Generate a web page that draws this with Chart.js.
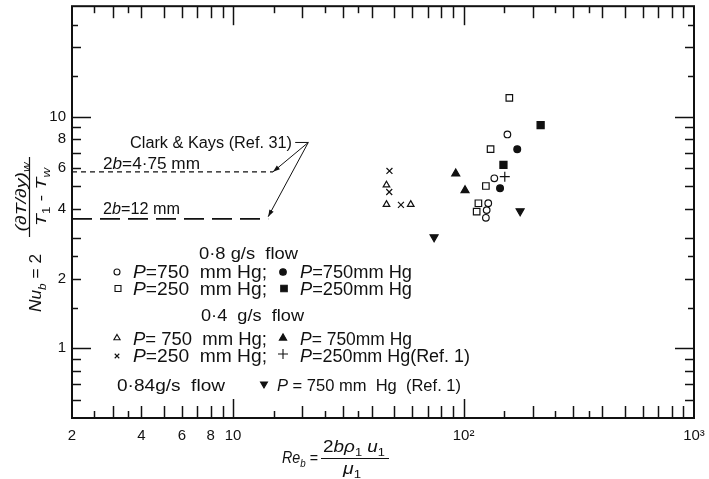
<!DOCTYPE html>
<html>
<head>
<meta charset="utf-8">
<script src="https://cdn.jsdelivr.net/npm/chart.js@4/dist/chart.umd.min.js"></script>
<style>
  html, body { margin: 0; padding: 0; background: #fff; }
  canvas { display: block; }
</style>
</head>
<body>
<canvas id="c" width="709" height="479"></canvas>
<script>
// Re_b (x) and Nu_b (y) for each measurement group
const openCircleRe = [155, 136, 128, 126, 125];
const openCircleNu = [8.38, 5.42, 4.23, 3.95, 3.66];
const openSquareRe = [158, 131, 125, 116, 114];
const openSquareNu = [12.05, 7.24, 5.02, 4.23, 3.89];
const filledCircleRe = [171, 144];
const filledCircleNu = [7.24, 4.91];
const filledSquareRe = [216, 149];
const filledSquareNu = [9.2, 6.19];
const openTriangleRe = [46.3, 46.3, 59];
const openTriangleNu = [5.07, 4.18, 4.18];
const filledTriangleRe = [92.5, 101.5];
const filledTriangleNu = [5.68, 4.81];
const crossRe = [47.7, 47.6, 53.5];
const crossNu = [5.83, 4.73, 4.16];
const plusRe = [151];
const plusNu = [5.51];
const downTriangleRe = [176, 74.5];
const downTriangleNu = [3.91, 3.02];

// Clark & Kays correlation levels
const clark475Re = [2, 14.9];
const clark475Nu = [5.78, 5.78];
const clark12Re = [2, 14.2];
const clark12Nu = [3.62, 3.62];
// leader lines: start of the caption stroke, apex, and the two arrow tips
const leaderRe = [18.6, 21.2, 14.9, 14.2];
const leaderNu = [7.74, 7.74, 5.78, 3.7];

// axis tick marks and labels
const xTickValues = [2.5, 3, 3.5, 4, 5, 6, 7, 8, 9, 10, 15, 20, 25, 30, 35, 40, 50, 60, 70, 80, 90, 100,
                     150, 200, 250, 300, 350, 400, 500, 600, 700, 800, 900];
const yTickValues = [0.6, 0.7, 0.8, 0.9, 1, 1.5, 2, 2.5, 3, 4, 5, 6, 7, 8, 9, 10, 15, 20, 25];
const xLabelValues = [2, 4, 6, 8, 10, 100, 1000];
const xLabelTexts = ['2', '4', '6', '8', '10', '10\u00B2', '10\u00B3'];
const yLabelValues = [1, 2, 4, 6, 8, 10];
const yLabelTexts = ['1', '2', '4', '6', '8', '10'];

const FONT = '"Liberation Sans", Arial, sans-serif';
const INK = '#111';

const pts = (xs, ys) => xs.map((x, i) => ({ x, y: ys[i] }));

function markerSet(label, xs, ys, style, filled, radius, rotation) {
  return {
    label, data: pts(xs, ys), pointStyle: style, pointRadius: radius, pointRotation: rotation || 0,
    pointBackgroundColor: filled ? INK : '#fff', pointBorderColor: INK, pointBorderWidth: 1.2,
    pointHoverRadius: radius, showLine: false
  };
}

function tickLen(v, decade, whole, half) {
  const lg = Math.log10(v);
  if (Math.abs(lg - Math.round(lg)) < 1e-9) return decade;
  const m = v / Math.pow(10, Math.floor(lg + 1e-9));
  return Math.abs(m - Math.round(m)) < 1e-9 ? whole : half;
}

// text runs: {t, i (italic), sub}
function runWidth(ctx, runs, size) {
  let w = 0;
  runs.forEach(r => {
    ctx.font = (r.i ? 'italic ' : '') + (r.sub ? size * 0.68 : size) + 'px ' + FONT;
    w += ctx.measureText(r.t).width;
  });
  return w;
}
function drawRuns(ctx, runs, x, y, size, align, fitWidth) {
  const w = runWidth(ctx, runs, size);
  let sx = 1;
  if (fitWidth) { sx = Math.max(0.8, Math.min(1.3, fitWidth / w)); }
  const total = w * sx;
  const cx = align === 'center' ? x - total / 2 : x;
  ctx.save();
  ctx.translate(cx, y);
  ctx.scale(sx, 1);
  let px = 0;
  runs.forEach(r => {
    ctx.font = (r.i ? 'italic ' : '') + (r.sub ? size * 0.68 : size) + 'px ' + FONT;
    ctx.textBaseline = 'alphabetic';
    ctx.textAlign = 'left';
    ctx.fillStyle = INK;
    ctx.fillText(r.t, px, r.sub ? size * 0.28 : 0);
    px += ctx.measureText(r.t).width;
  });
  ctx.restore();
}

function symbol(ctx, style, x, y, r, filled, rot) {
  ctx.save();
  ctx.setLineDash([]);
  ctx.strokeStyle = INK; ctx.fillStyle = filled ? INK : '#fff'; ctx.lineWidth = 1.1;
  Chart.helpers.drawPoint(ctx, { pointStyle: style, radius: r, rotation: rot || 0, borderWidth: 1.1 }, x, y);
  ctx.restore();
}

function arrowHead(ctx, x0, y0, x1, y1) {
  const a = Math.atan2(y1 - y0, x1 - x0), len = 7, half = 2.4;
  ctx.beginPath();
  ctx.moveTo(x1, y1);
  ctx.lineTo(x1 - len * Math.cos(a) + half * Math.sin(a), y1 - len * Math.sin(a) - half * Math.cos(a));
  ctx.lineTo(x1 - len * Math.cos(a) - half * Math.sin(a), y1 - len * Math.sin(a) + half * Math.cos(a));
  ctx.closePath();
  ctx.fill();
}

function line(ctx, x0, y0, x1, y1) {
  ctx.beginPath(); ctx.moveTo(x0, y0); ctx.lineTo(x1, y1); ctx.stroke();
}

const framePlugin = {
  id: 'frameAndAnnotations',
  afterDraw(chart) {
    const ctx = chart.ctx;
    const area = chart.chartArea;
    const xs = chart.scales.x, ys = chart.scales.y;
    ctx.save();
    ctx.setLineDash([]);
    ctx.strokeStyle = INK;
    ctx.fillStyle = INK;
    ctx.lineCap = 'butt';

    // inward tick marks on all four sides
    ctx.lineWidth = 1.5;
    for (const v of xTickValues) {
      const px = Math.round(xs.getPixelForValue(v)) + 0.5;
      const len = tickLen(v, 19, 12, 7);
      line(ctx, px, area.bottom, px, area.bottom - len);
      line(ctx, px, area.top, px, area.top + len);
    }
    for (const v of yTickValues) {
      const py = Math.round(ys.getPixelForValue(v)) + 0.5;
      const len = tickLen(v, 19, 9, 6);
      line(ctx, area.left, py, area.left + len, py);
      line(ctx, area.right, py, area.right - len, py);
    }
    // frame
    ctx.lineWidth = 2;
    ctx.strokeRect(area.left, area.top, area.right - area.left, area.bottom - area.top);

    // leader lines from the Clark & Kays caption
    const ld = leaderRe.map((v, i) => ({ px: xs.getPixelForValue(v), py: ys.getPixelForValue(leaderNu[i]) }));
    ctx.lineWidth = 1;
    line(ctx, ld[0].px, ld[0].py, ld[1].px, ld[1].py);
    line(ctx, ld[1].px, ld[1].py, ld[2].px, ld[2].py);
    line(ctx, ld[1].px, ld[1].py, ld[3].px, ld[3].py);
    arrowHead(ctx, ld[1].px, ld[1].py, ld[2].px, ld[2].py);
    arrowHead(ctx, ld[1].px, ld[1].py, ld[3].px, ld[3].py);

    // captions
    drawRuns(ctx, [{ t: 'Clark & Kays (Ref. 31)' }], 130, 148, 16, 'left', 162);
    drawRuns(ctx, [{ t: '2' }, { t: 'b', i: true }, { t: '=4\u00B775 mm' }], 103, 169, 16, 'left', 97);
    drawRuns(ctx, [{ t: '2' }, { t: 'b', i: true }, { t: '=12 mm' }], 103, 214, 16, 'left', 77);

    // key
    const P = [{ t: 'P', i: true }];
    drawRuns(ctx, [{ t: '0\u00B78 g/s  flow' }], 199, 259, 17, 'left', 99);
    symbol(ctx, 'circle', 117, 272, 3, false);
    drawRuns(ctx, P.concat([{ t: '=750  mm Hg;' }]), 133, 278, 18, 'left', 134);
    symbol(ctx, 'circle', 283, 272, 3.3, true);
    drawRuns(ctx, P.concat([{ t: '=750mm Hg' }]), 300, 278, 18, 'left', 112);
    symbol(ctx, 'rect', 118, 288.5, 4.2, false);
    drawRuns(ctx, P.concat([{ t: '=250  mm Hg;' }]), 133, 294.5, 18, 'left', 134);
    symbol(ctx, 'rect', 284, 288.5, 4.6, true);
    drawRuns(ctx, P.concat([{ t: '=250mm Hg' }]), 300, 294.5, 18, 'left', 112);

    drawRuns(ctx, [{ t: '0\u00B74  g/s  flow' }], 201, 321, 17, 'left', 103);
    symbol(ctx, 'triangle', 117, 338, 3.6, false);
    drawRuns(ctx, P.concat([{ t: '= 750  mm Hg;' }]), 133, 344.5, 18, 'left', 134);
    symbol(ctx, 'triangle', 283, 338, 4.2, true);
    drawRuns(ctx, P.concat([{ t: '= 750mm Hg' }]), 300, 344.5, 18, 'left', 112);
    symbol(ctx, 'crossRot', 117, 356, 3.2, false);
    drawRuns(ctx, P.concat([{ t: '=250  mm Hg;' }]), 133, 362, 18, 'left', 134);
    symbol(ctx, 'cross', 283, 354, 5, false);
    drawRuns(ctx, P.concat([{ t: '=250mm Hg(Ref. 1)' }]), 300, 362, 18, 'left', 170);

    drawRuns(ctx, [{ t: '0\u00B784g/s  flow' }], 117, 391, 17, 'left', 108);
    symbol(ctx, 'triangle', 264, 384, 4, true, 180);
    drawRuns(ctx, P.concat([{ t: ' = 750 mm  Hg  (Ref. 1)' }]), 277, 391, 17, 'left', 184);

    // y-axis title (rotated)
    const rot = (cx, cy, fn) => { ctx.save(); ctx.translate(cx, cy); ctx.rotate(-Math.PI / 2); fn(); ctx.restore(); };
    rot(35, 283, () => drawRuns(ctx, [{ t: 'Nu', i: true }, { t: 'b', i: true, sub: true }, { t: ' = 2' }], 0, 6, 17, 'center', 58));
    rot(21, 197, () => drawRuns(ctx, [{ t: '(\u2202T/\u2202y)', i: true }, { t: 'w', i: true, sub: true }], 0, 5, 15, 'center', 72));
    ctx.lineWidth = 1.2;
    line(ctx, 29.5, 157, 29.5, 237);
    rot(41, 197, () => drawRuns(ctx, [{ t: 'T', i: true }, { t: '1', sub: true }, { t: ' - ' }, { t: 'T', i: true }, { t: 'w', i: true, sub: true }], 0, 5, 15, 'center', 58));

    // x-axis title
    drawRuns(ctx, [{ t: 'Re', i: true }, { t: 'b', i: true, sub: true }, { t: ' =' }], 282, 463, 16, 'left', 36);
    drawRuns(ctx, [{ t: '2' }, { t: 'b\u03C1', i: true }, { t: '1', sub: true }, { t: ' u', i: true }, { t: '1', sub: true }], 354, 452, 16, 'center', 62);
    line(ctx, 321, 458.5, 389, 458.5);
    drawRuns(ctx, [{ t: '\u03BC', i: true }, { t: '1', sub: true }], 352, 474, 16, 'center', 18);
    ctx.restore();
  }
};

const datasets = [
  markerSet('0.8 g/s, P=750 mm Hg', openCircleRe, openCircleNu, 'circle', false, 3.3),
  markerSet('0.8 g/s, P=750 mm Hg (filled)', filledCircleRe, filledCircleNu, 'circle', true, 3.4),
  markerSet('0.8 g/s, P=250 mm Hg', openSquareRe, openSquareNu, 'rect', false, 4.6),
  markerSet('0.8 g/s, P=250 mm Hg (filled)', filledSquareRe, filledSquareNu, 'rect', true, 5),
  markerSet('0.4 g/s, P=750 mm Hg', openTriangleRe, openTriangleNu, 'triangle', false, 3.8),
  markerSet('0.4 g/s, P=750 mm Hg (filled)', filledTriangleRe, filledTriangleNu, 'triangle', true, 4.6),
  markerSet('0.4 g/s, P=250 mm Hg', crossRe, crossNu, 'crossRot', false, 4.2),
  markerSet('0.4 g/s, P=250 mm Hg (Ref. 1)', plusRe, plusNu, 'cross', false, 5),
  markerSet('0.84 g/s, P=750 mm Hg (Ref. 1)', downTriangleRe, downTriangleNu, 'triangle', true, 4.6, 180),
  { type: 'line', label: 'Clark & Kays 2b=4.75 mm', data: pts(clark475Re, clark475Nu),
    borderColor: INK, borderWidth: 1.2, borderDash: [5, 4], pointRadius: 0, fill: false },
  { type: 'line', label: 'Clark & Kays 2b=12 mm', data: pts(clark12Re, clark12Nu),
    borderColor: INK, borderWidth: 1.6, borderDash: [20, 8], pointRadius: 0, fill: false }
];

new Chart(document.getElementById('c'), {
  type: 'scatter',
  data: { datasets },
  options: {
    responsive: false,
    animation: false,
    devicePixelRatio: 1,
    layout: { padding: { top: 6, right: 15, left: 0, bottom: 0 } },
    plugins: { legend: { display: false }, tooltip: { enabled: false } },
    scales: {
      x: {
        type: 'logarithmic', min: 2, max: 1000,
        afterFit(s) { s.height = 61; s.paddingLeft = 0; s.paddingRight = 0; },
        afterBuildTicks(s) { s.ticks = xLabelValues.map(v => ({ value: v })); },
        ticks: {
          callback: (v, i) => xLabelTexts[i],
          font: { family: FONT, size: 15 }, color: INK, padding: 9,
          maxRotation: 0, autoSkip: false
        },
        grid: { display: false, drawTicks: false },
        border: { display: false }
      },
      y: {
        type: 'logarithmic', min: 0.5, max: 30,
        afterFit(s) { s.width = 72; s.paddingTop = 0; s.paddingBottom = 0; },
        afterBuildTicks(s) { s.ticks = yLabelValues.map(v => ({ value: v })); },
        ticks: {
          callback: (v, i) => yLabelTexts[i],
          font: { family: FONT, size: 15 }, color: INK, padding: 6, autoSkip: false
        },
        grid: { display: false, drawTicks: false },
        border: { display: false }
      }
    }
  },
  plugins: [framePlugin]
});
</script>
</body>
</html>
